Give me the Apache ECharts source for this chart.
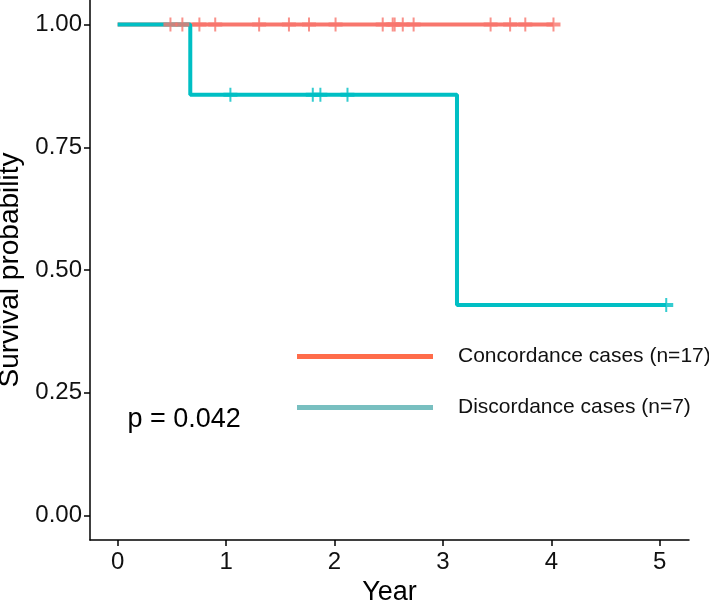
<!DOCTYPE html>
<html>
<head>
<meta charset="utf-8">
<script src="https://cdn.jsdelivr.net/npm/echarts@6/dist/echarts.min.js"></script>
<style>html,body{margin:0;padding:0;background:#fff}#c{width:709px;height:600px}</style>
</head>
<body>
<div id="c"></div>
<script>
// Kaplan-Meier steps (year, survival)
const concordanceSteps = [[0, 1], [4.02, 1]];
const discordanceSteps = [[0, 1], [0.67, 0.857], [3.13, 0.4286], [5.06, 0.4286]];
// censor times
const concordanceCensor = [0.487, 0.597, 0.754, 0.90, 1.305, 1.58, 1.765, 2.01, 2.445, 2.537, 2.555, 2.63, 2.73, 3.44, 3.62, 3.76, 4.02];
const discordanceCensor = [1.04, 1.80, 1.87, 2.12, 5.06];
const discordanceCensorSurv = [0.857, 0.857, 0.857, 0.857, 0.4286];
const seriesNames = ['Concordance cases (n=17)', 'Discordance cases (n=7)'];
const xTicks = [0, 1, 2, 3, 4, 5];
const yTicks = [0, 0.25, 0.5, 0.75, 1];
const pValueText = 'p = 0.042';

const RED = '#F8766D', TEAL = '#00BFC4';
const plus = 'path://M-1,-7 L1,-7 L1,-2 L7,-2 L7,2 L1,2 L1,7 L-1,7 L-1,2 L-7,2 L-7,-2 L-1,-2 Z';
const font = 'Liberation Sans, Arial, sans-serif';

const chart = echarts.init(document.getElementById('c'), null, {renderer: 'canvas'});
chart.setOption({
  animation: false,
  grid: {left: 90, right: 20, top: 0, bottom: 60, containLabel: false, outerBoundsMode: 'none'},
  xAxis: {
    type: 'value', min: -0.255, max: 5.27,
    name: 'Year', nameLocation: 'middle', nameGap: 18,
    nameTextStyle: {fontSize: 27, color: '#000', fontFamily: font},
    axisLine: {show: true, onZero: false, lineStyle: {color: '#000', width: 1.5}},
    axisTick: {show: true, length: 6, lineStyle: {color: '#000', width: 1.5},
      customValues: xTicks},
    axisLabel: {fontSize: 24, color: '#111', margin: 10, fontFamily: font,
      customValues: xTicks, formatter: v => String(v)},
    splitLine: {show: false}
  },
  yAxis: {
    type: 'value', min: -0.05, max: 1.05,
    name: 'Survival probability', nameLocation: 'middle', nameGap: 63,
    nameTextStyle: {fontSize: 28, color: '#000', fontFamily: font},
    axisLine: {show: true, onZero: false, lineStyle: {color: '#000', width: 1.5}},
    axisTick: {show: true, length: 6, lineStyle: {color: '#000', width: 1.5},
      customValues: yTicks},
    axisLabel: {fontSize: 24, color: '#111', margin: 8, fontFamily: font,
      customValues: yTicks, formatter: v => v.toFixed(2)},
    splitLine: {show: false}
  },
  legend: {
    orient: 'vertical', left: 292, top: 341,
    itemWidth: 136, itemHeight: 5, itemGap: 30,
    selectedMode: false,
    textStyle: {fontSize: 21, color: '#111', fontFamily: font, padding: [0, 0, 0, 20]},
    data: [
      {name: seriesNames[0], icon: 'rect', itemStyle: {color: '#FF6C4A'}},
      {name: seriesNames[1], icon: 'rect', itemStyle: {color: '#78BFC0'}}
    ]
  },
  series: [
    {name: seriesNames[0], type: 'line', step: 'end', data: concordanceSteps,
      showSymbol: false, lineStyle: {color: RED, width: 4}, itemStyle: {color: RED}, z: 2},
    {name: seriesNames[1], type: 'line', step: 'end', data: discordanceSteps,
      showSymbol: false, lineStyle: {color: TEAL, width: 4}, itemStyle: {color: TEAL}, z: 3},
    {name: 'c1', type: 'scatter', data: concordanceCensor.map(t => [t, 1]),
      symbol: plus, symbolSize: 14, itemStyle: {color: RED}, z: 4, silent: true},
    {name: 'c2', type: 'scatter', data: discordanceCensor.map((t, i) => [t, discordanceCensorSurv[i]]),
      symbol: plus, symbolSize: 14, itemStyle: {color: TEAL}, z: 4, silent: true}
  ]
});
const pPos = chart.convertToPixel({gridIndex: 0}, [0.09, 0.195]);
chart.setOption({
  graphic: [{type: 'text', x: pPos[0], y: pPos[1],
    style: {text: pValueText, fontSize: 27, fill: '#000', fontFamily: font, textVerticalAlign: 'middle'}}]
});
</script>
</body>
</html>
